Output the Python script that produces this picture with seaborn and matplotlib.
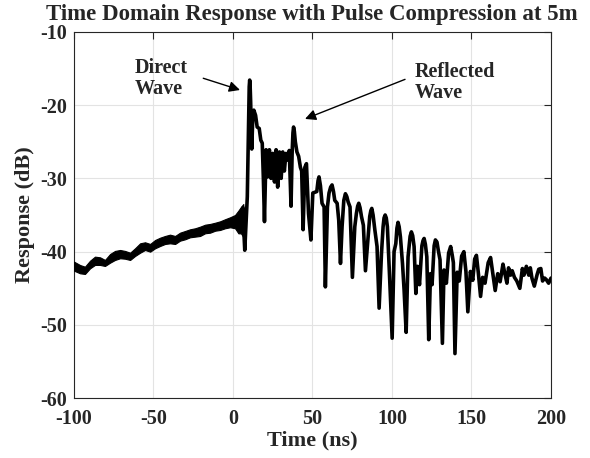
import numpy as np
import pandas as pd
import matplotlib
matplotlib.use("Agg")
import matplotlib.pyplot as plt
import seaborn as sns

# ---- data ----
# noisy pre-pulse region: upper / lower envelope of the trace (dB)
band_t = [-100, -96.2, -93.1, -89.9, -86.8, -83.6, -80.5, -77.3, -74.2, -71.0,
          -67.9, -64.7, -61.6, -58.4, -55.3, -52.1, -49.0, -45.8, -42.7, -39.6,
          -36.4, -33.3, -30.1, -27.0, -23.8, -20.7, -17.5, -14.4, -11.2, -8.1,
          -5.0, -1.8, 1.3, 3.4, 5.0, 6.5]
band_top = [-41.36, -41.82, -42.05, -41.23, -40.68, -40.77, -41.13, -40.32, -39.90, -39.77,
            -39.90, -40.14, -39.54, -38.86, -38.72, -38.95, -38.41, -38.09, -37.86, -37.68,
            -37.86, -37.41, -37.18, -36.95, -36.81, -36.59, -36.32, -36.22, -36.05, -35.86,
            -35.58, -35.31, -35.00, -34.40, -33.90, -33.50]
band_bot = [-42.59, -42.95, -43.04, -42.27, -41.81, -41.81, -41.95, -41.50, -41.13, -40.90,
            -40.96, -41.13, -40.59, -40.14, -39.77, -40.00, -39.54, -39.22, -38.95, -38.86,
            -38.95, -38.50, -38.31, -38.04, -37.95, -37.86, -37.49, -37.41, -37.14, -37.04,
            -36.81, -36.67, -36.81, -37.50, -37.50, -38.00]

# main trace from the pulse onwards
time_ns = [3.4, 5.0, 6.3, 7.0, 7.4, 8.2, 9.0, 9.6, 10.2, 10.5, 10.8, 11.1, 11.8, 12.4, 13.1, 14.2,
           15.2, 16.5, 17.5, 18.4, 19.1, 19.8, 20.8, 21.8, 22.9, 23.9, 25.0, 26.1,
           27.1, 28.1, 29.2, 30.3, 31.3, 32.3, 33.3, 34.4, 35.4, 36.5, 37.2, 37.7, 38.1, 38.6,
           39.2, 40.2, 41.3, 42.4, 43.2, 44.1, 45.2, 46.2, 47.5, 49.0, 50.2, 51.5,
           52.7, 53.5, 54.1, 55.0, 56.0, 57.3, 58.1, 59.4, 60.4, 61.4, 62.3, 63.2, 64.0, 65.5, 66.5,
           67.6, 68.6, 69.7, 70.7, 71.6, 72.4, 73.6, 75.1, 76.6, 77.6, 78.4, 79.1, 79.9, 80.8,
           82.0, 83.3, 85.0, 86.0, 86.7, 87.3, 88.1, 89.2, 90.6, 91.9, 93.4, 94.4, 95.0, 95.7,
           96.4, 97.1, 98.4, 100.1, 101.3, 102.4, 103.1, 103.8, 104.5, 105.3, 106.6, 107.6,
           108.9, 110.1, 111.4, 112.2, 113.0, 113.9, 115.0, 116.0, 117.3, 118.8, 119.5, 120.2,
           121.0, 121.9, 123.1, 124.2, 125.2, 126.5, 127.3, 128.3, 129.1, 130.2, 131.7, 132.7,
           134.2, 135.6, 136.9, 137.9, 138.6, 139.6, 141.0, 142.3, 143.8, 145.2, 146.5, 147.7,
           149.3, 150.8, 152.0, 153.1, 154.3, 155.7, 157.0, 158.5, 160.5, 162.0, 163.3, 164.9,
           166.5, 168.0, 169.8, 171.0, 172.3, 173.3, 174.6, 175.6, 177.0, 178.5, 180.4, 182.0,
           183.0, 184.5, 186.0, 187.0, 188.0, 189.5, 191.3, 192.3, 193.6, 194.7,
           196.0, 197.0, 198.5, 200.0]
resp_db = [-36.0, -35.5, -34.0, -38.0, -39.8, -36.0, -32.5, -25.0, -17.5, -16.6, -17.5, -19.5, -26.0, -22.0, -20.7, -21.4,
           -23.0, -23.2, -24.8, -25.2, -30.0, -35.9, -26.1, -29.8, -26.1, -30.0, -26.6, -30.5,
           -26.1, -31.2, -26.4, -30.0, -26.4, -29.0, -26.6, -27.5, -26.2, -33.8, -26.5, -23.8, -23.0, -23.6,
           -25.0, -26.4, -27.0, -28.5, -29.0, -37.0, -28.5, -28.0, -34.8, -38.4, -32.0, -31.9,
           -31.8, -30.3, -29.8, -31.0, -33.4, -33.9, -44.8, -33.9, -32.0, -31.2, -30.9, -31.8, -33.0, -33.4, -35.7,
           -41.6, -36.6, -33.0, -32.1, -32.5, -33.2, -33.9, -43.5, -36.6, -34.8, -33.8, -33.4, -34.0, -35.2,
           -36.4, -42.6, -38.0, -35.2, -34.4, -34.1, -35.0, -37.0, -39.3, -47.7, -40.2, -36.6, -35.4, -35.0,
           -35.4, -36.6, -43.0, -51.8, -40.0, -38.9, -36.8, -36.0, -36.6, -38.0, -41.6, -45.2,
           -51.0, -40.7, -37.9, -37.3, -37.8, -39.3, -45.7, -42.0, -44.5, -39.2, -38.5, -38.2,
           -39.0, -40.7, -52.0, -43.0, -44.5, -39.2, -38.4, -38.7, -39.8, -41.1, -52.5, -42.5,
           -44.3, -40.2, -39.3, -40.5, -41.5, -53.9, -42.8, -44.0, -40.6, -40.0, -42.7, -48.2,
           -42.7, -43.9, -41.0, -40.5, -42.9, -46.1, -43.5, -44.3, -41.5, -40.8, -42.8, -45.3,
           -43.0, -44.1, -41.7, -43.0, -44.3, -42.2, -43.2, -42.6, -43.5, -44.0, -45.0, -42.3,
           -43.2, -42.0, -43.2, -42.2, -43.6, -44.7, -43.1, -42.4, -42.3, -44.0,
           -43.6, -43.8, -44.3, -43.6]

title = "Time Domain Response with Pulse Compression at 5m"
xlabel = "Time (ns)"
ylabel = "Response (dB)"
xticks = [-100, -50, 0, 50, 100, 150, 200]
yticks = [-60, -50, -40, -30, -20, -10]

# ---- plotting ----
sns.set_style("white")
plt.rcParams["font.family"] = ["Liberation Serif", "DejaVu Serif"]
plt.rcParams["font.weight"] = "bold"

fig = plt.figure(figsize=(5.9, 4.58), dpi=100)
ax = fig.add_axes([0.1254, 0.1303, 0.8085, 0.8005])

df = pd.DataFrame({"t": time_ns, "v": resp_db})
ax.fill_between(band_t, band_top, band_bot, color="black", linewidth=0.8, edgecolor="black", zorder=3)
sns.lineplot(data=df, x="t", y="v", ax=ax, color="black", linewidth=2.6,
             estimator=None, sort=False, zorder=4)

ax.set_xlim(-100, 200)
ax.set_ylim(-60, -10)
ax.set_xticks(xticks)
ax.set_yticks(yticks)
ax.set_xticklabels([str(v) for v in xticks], fontsize=14.5, fontweight="bold")
ax.set_yticklabels([str(v) for v in yticks], fontsize=14.5, fontweight="bold")
ax.grid(True, color="#e3e3e3", linewidth=0.8)
ax.set_axisbelow(True)
for s in ax.spines.values():
    s.set_color("#262626")
    s.set_linewidth(0.8)
ax.tick_params(direction="in", length=5, width=0.8, top=True, right=True,
               colors="#262626", labelcolor="#262626")
ax.tick_params(axis="x", pad=8)
ax.tick_params(axis="y", pad=5)
ax.set_xlabel(xlabel, fontsize=16, fontweight="bold", color="#262626", labelpad=1)
ax.set_ylabel(ylabel, fontsize=16, fontweight="bold", color="#262626", labelpad=4)
fig.text(0.5285, 1 - 14.5 / 458, title, fontsize=16.5, fontweight="bold",
         ha="center", va="center")

ax.text(-61.7, -16.35, "Direct\nWave", fontsize=14.5, fontweight="bold",
        ha="left", va="center", linespacing=1.1, zorder=5)
ax.text(114.5, -16.9, "Reflected\nWave", fontsize=14.5, fontweight="bold",
        ha="left", va="center", linespacing=1.1, zorder=5)
ax.annotate("", xy=(4.4, -17.95), xytext=(-18.7, -16.35),
            arrowprops=dict(arrowstyle="-|>", color="black", lw=1.0,
                            mutation_scale=16, shrinkA=0, shrinkB=0), zorder=5)
ax.annotate("", xy=(45.3, -21.9), xytext=(108.2, -16.5),
            arrowprops=dict(arrowstyle="-|>", color="black", lw=1.0,
                            mutation_scale=16, shrinkA=0, shrinkB=0), zorder=5)

fig.savefig("out.png", dpi=100)
